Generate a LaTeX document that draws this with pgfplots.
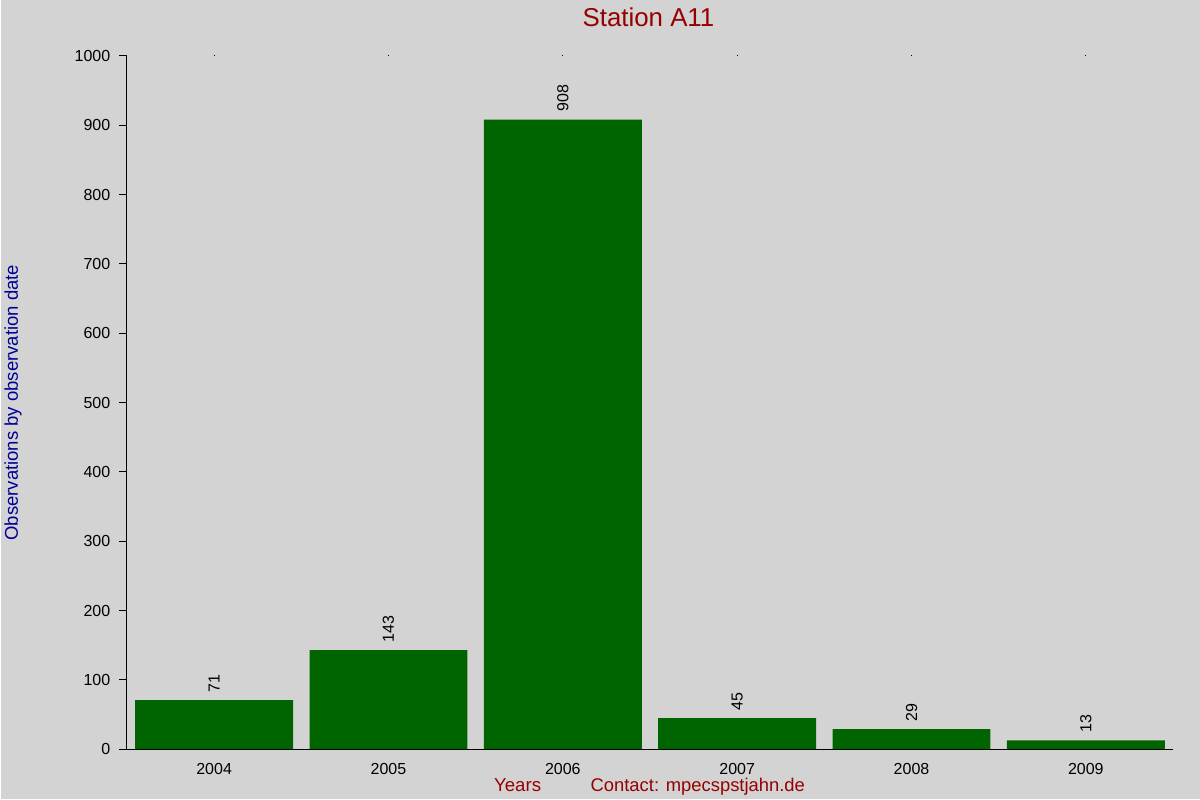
\documentclass[border=0pt]{standalone}
\usepackage{fontspec}
\setmainfont{Liberation Sans}
\usepackage{pgfplots}
\pgfplotsset{compat=1.18}
\definecolor{bgc}{RGB}{211,211,211}
\definecolor{barg}{RGB}{0,100,0}
\definecolor{titred}{RGB}{150,0,0}
\definecolor{labblue}{RGB}{0,0,150}
\begin{document}
\begin{tikzpicture}
% 1 px of the reference = 0.75pt
\fill[bgc] (0,0) rectangle (900pt,600pt);
\begin{axis}[
  at={(94.5pt,37.5pt)}, anchor=south west,
  scale only axis,
  width=785.25pt, height=520.5pt,
  ybar, bar width=118.5pt,
  xmin=-0.5, xmax=5.5,
  ymin=0, ymax=1000,
  xtick={0,1,2,3,4,5},
  xticklabels={2004,2005,2006,2007,2008,2009},
  ytick={0,100,200,300,400,500,600,700,800,900,1000},
  axis line style={draw=none},
  xtick pos=upper, xticklabel pos=lower,
  ytick pos=left,
  tick align=outside,
  major tick length=6pt,
  xtick style={/pgfplots/major tick length=0.75pt, black, line width=0.75pt},
  ytick style={black, line width=0.75pt},
  /pgf/number format/assume math mode=true,
  /pgf/number format/1000 sep={},
  ticklabel style={font=\fontsize{12}{14}\selectfont, black},
  yticklabel style={xshift=-3pt},
  xticklabel style={yshift=-1pt},
  nodes near coords,
  every node near coord/.append style={rotate=90, anchor=west, inner sep=0pt, outer sep=6pt,
    font=\fontsize{12}{14}\selectfont, black},
  clip=false,
]
\addplot[fill=barg, draw=none] coordinates {(0,71) (1,143) (2,908) (3,45) (4,29) (5,13)};
\draw[black, line width=0.75pt] (rel axis cs:0,1) -- (rel axis cs:0,0) -- (rel axis cs:1,0);
\end{axis}
\node[anchor=base, text=titred, font=\fontsize{19.4}{22}\selectfont] at (486pt,579.75pt) {Station A11};
\node[rotate=90, text=labblue, font=\fontsize{13.9}{16}\selectfont] at (9pt,297.75pt) {Observations by observation date};
\node[anchor=base, text=titred, font=\fontsize{14}{16}\selectfont] at (387.75pt,6pt) {Years};
\node[anchor=base, text=titred, font=\fontsize{13.8}{16}\selectfont] at (523pt,6pt) {Contact: mpecspstjahn.de};
\end{tikzpicture}
\end{document}
